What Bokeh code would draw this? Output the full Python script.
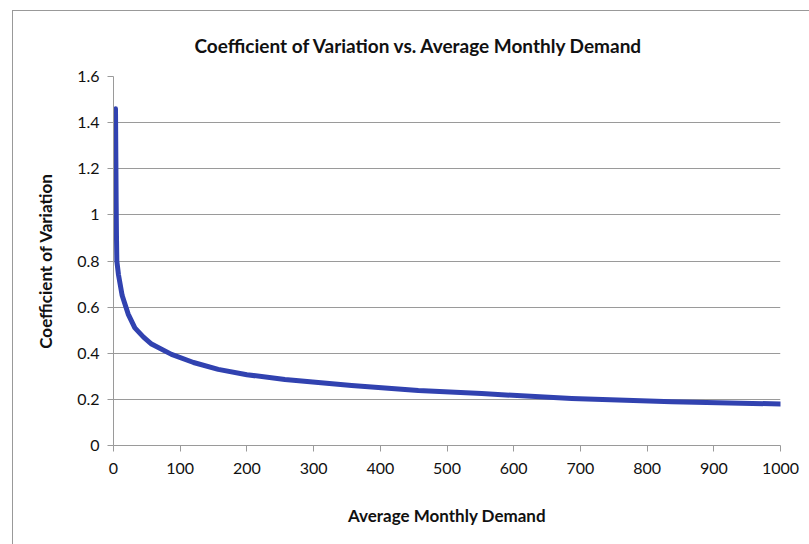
from bokeh.plotting import figure
from bokeh.models import FixedTicker
from bokeh.embed import file_html
from bokeh.resources import INLINE

demand = [3, 3.5, 4, 4.5, 5, 7.5, 13, 22, 32, 45, 57, 87, 120, 157, 200, 257,
          357, 457, 552, 687, 837, 1000]
cv = [1.46, 1.25, 1.05, 0.90, 0.80, 0.74, 0.65, 0.57, 0.51, 0.47, 0.44, 0.395,
      0.36, 0.33, 0.307, 0.286, 0.26, 0.238, 0.225, 0.204, 0.19, 0.18]
x_ticks = [0, 100, 200, 300, 400, 500, 600, 700, 800, 900, 1000]
y_ticks = [0, 0.2, 0.4, 0.6, 0.8, 1.0, 1.2, 1.4, 1.6]
y_labels = {0: "0", 0.2: "0.2", 0.4: "0.4", 0.6: "0.6", 0.8: "0.8", 1.0: "1",
            1.2: "1.2", 1.4: "1.4", 1.6: "1.6"}

FONT = "Lato"
GRID = "#9a9a9a"

p = figure(width=797, height=534, output_backend="svg", toolbar_location=None,
           x_range=(0, 1000), y_range=(0, 1.6),
           min_border_left=100, min_border_right=30, min_border_top=65,
           min_border_bottom=100,
           title="Coefficient of Variation vs. Average Monthly Demand")
p.styles = {"margin-left": "12px", "margin-top": "10px",
            "border-left": "1px solid #999", "border-top": "1px solid #999"}

p.line(demand, cv, line_color="#3142b0", line_width=5, line_cap="round",
       line_join="round")

p.title.align = "left"
p.title.offset = 81
p.title.vertical_align = "top"
p.title.text_font = FONT
p.title.text_font_size = "19px"
p.title.text_font_style = "bold"
p.title.text_color = "#111111"
p.title.standoff = 36

p.outline_line_color = None
p.xgrid.grid_line_color = None
p.ygrid.grid_line_color = GRID
p.ygrid.grid_line_width = 1

p.xaxis.ticker = FixedTicker(ticks=x_ticks)
p.yaxis.ticker = FixedTicker(ticks=y_ticks)
p.yaxis.major_label_overrides = y_labels

for ax in (p.xaxis, p.yaxis):
    ax.axis_line_color = GRID
    ax.major_tick_line_color = GRID
    ax.major_tick_out = 6
    ax.major_tick_in = 0
    ax.minor_tick_line_color = None
    ax.major_label_text_font = FONT
    ax.major_label_text_font_size = "16px"
    ax.major_label_text_color = "#111111"
    ax.axis_label_text_font = FONT
    ax.axis_label_text_font_size = "17px"
    ax.axis_label_text_font_style = "bold"
    ax.axis_label_text_color = "#111111"

p.xaxis.axis_label = "Average Monthly Demand"
p.yaxis.axis_label = "Coefficient of Variation"
p.xaxis.major_label_standoff = 11
p.xaxis.axis_label_standoff = 28
p.yaxis.major_label_standoff = 8
p.yaxis.axis_label_standoff = 18

open("out.html", "w").write(file_html(p, INLINE))
